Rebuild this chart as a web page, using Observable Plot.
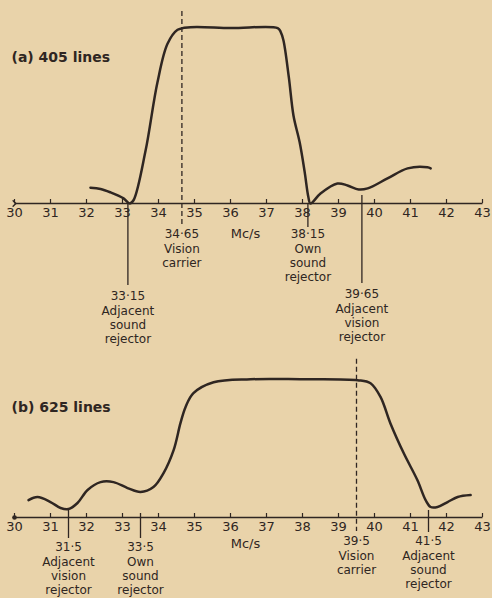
<!DOCTYPE html>
<html>
<head>
<meta charset="utf-8">
<script src="https://cdn.jsdelivr.net/npm/d3@7"></script>
<script src="https://cdn.jsdelivr.net/npm/@observablehq/plot@0.6"></script>
<style>
  html, body { margin: 0; padding: 0; background: #e9d3aa; }
  #chart { width: 492px; height: 598px; overflow: hidden; }
  #chart svg { display: block; }
</style>
</head>
<body>
<div id="chart"></div>
<script>
// ---------- DATA ----------
const tickValues = [30, 31, 32, 33, 34, 35, 36, 37, 38, 39, 40, 41, 42, 43];
const axisUnit = "Mc/s";

// (a) 405 lines – relative response vs frequency (Mc/s)
const titleA = "(a) 405 lines";
const freqA = [32.11, 32.39, 32.67, 33.03, 33.2, 33.31, 33.64, 33.97, 34.25, 34.53, 34.89, 36.0, 37.31, 37.39, 37.47, 37.62, 37.75, 37.92, 38.06, 38.16, 38.22, 38.5, 38.97, 39.25, 39.56, 39.81, 40.36, 40.92, 41.47, 41.56];
const respA = [0.09, 0.083, 0.063, 0.029, 0.0, 0.02, 0.30, 0.69, 0.91, 0.99, 1.005, 1.0, 1.0, 0.98, 0.93, 0.72, 0.50, 0.35, 0.18, 0.04, 0.0, 0.057, 0.114, 0.103, 0.08, 0.086, 0.143, 0.20, 0.206, 0.20];
const carrierA = 34.65;
const carrierLabelA = "34·65\nVision\ncarrier";
const rejectorsA = [33.15, 38.15, 39.65];
const rejectorLabelsA = ["33·15\nAdjacent\nsound\nrejector", "38·15\nOwn\nsound\nrejector", "39·65\nAdjacent\nvision\nrejector"];

// (b) 625 lines
const titleB = "(b) 625 lines";
const freqB = [30.39, 30.64, 31.0, 31.28, 31.5, 31.75, 32.03, 32.39, 32.75, 33.14, 33.5, 33.86, 34.14, 34.42, 34.61, 34.75, 34.97, 35.53, 36.56, 37.94, 39.53, 39.89, 40.17, 40.44, 40.81, 41.19, 41.42, 41.56, 41.75, 42.03, 42.31, 42.67];
const respB = [0.126, 0.148, 0.112, 0.069, 0.061, 0.105, 0.199, 0.256, 0.256, 0.213, 0.184, 0.22, 0.321, 0.487, 0.682, 0.798, 0.899, 0.978, 1.0, 1.0, 0.993, 0.971, 0.87, 0.682, 0.466, 0.271, 0.126, 0.076, 0.076, 0.112, 0.148, 0.162];
const carrierB = 39.5;
const carrierLabelB = "39·5\nVision\ncarrier";
const rejectorsB = [31.5, 33.5, 41.5];
const rejectorLabelsB = ["31·5\nAdjacent\nvision\nrejector", "33·5\nOwn\nsound\nrejector", "41·5\nAdjacent\nsound\nrejector"];

// ---------- STYLE / LAYOUT ----------
const ink = "#2f2622";
const font = "DejaVu Sans";
const W = 492;

function panel(cfg) {
  const {height, marginTop, marginBottom, yMax, curveX, curveY, title, titleDy,
         carrier, carrierLabel, carrierBelow, carrierLabelOff,
         rejectors, rejectorLabels, rejExtents, rejLabelOffs, unitDy, startMarker} = cfg;
  const k = (height - marginTop - marginBottom) / yMax; // px per unit
  const px = v => -v / k; // px below axis -> data units
  const curve = curveX.map((x, i) => ({x, y: curveY[i]}));
  const textOpts = {fill: ink, fontSize: 12, lineHeight: 1.17, lineAnchor: "top", textAnchor: "middle",
                    style: "letter-spacing:1.3px"};
  return Plot.plot({
    width: W, height, marginLeft: 14, marginRight: 10, marginTop, marginBottom,
    style: {fontFamily: font, background: "transparent", color: ink, overflow: "visible"},
    x: {domain: [tickValues[0], tickValues[tickValues.length - 1]], axis: null},
    y: {domain: [0, yMax], axis: null},
    marks: [
      Plot.link([0], {x1: () => tickValues[0], x2: () => tickValues[tickValues.length - 1], y1: () => 0, y2: () => 0,
                      stroke: ink, strokeWidth: 1.4, markerStart: startMarker}),
      Plot.ruleX(tickValues, {x: d => d, y1: 0, y2: 4 / k, stroke: ink, strokeWidth: 1.2}),
      Plot.axisX({ticks: tickValues, tickSize: 0, tickPadding: 4, fontSize: 13, tickFormat: d => String(d),
                  label: null, fill: ink}),
      Plot.text([axisUnit], {frameAnchor: "bottom", dy: unitDy, dx: -3, lineAnchor: "middle", fill: ink,
                             fontSize: 13, style: "letter-spacing:1.1px"}),
      // carrier (dashed)
      Plot.ruleX([carrier], {x: d => d, y1: yMax * 0.995, y2: px(carrierBelow), stroke: ink,
                             strokeWidth: 1.3, strokeDasharray: "5,3"}),
      Plot.text([carrierLabel], {x: () => carrier, y: () => px(carrierLabelOff), text: d => d, ...textOpts}),
      // rejectors
      Plot.ruleX(rejectors, {x: d => d, y1: (d, i) => px(rejExtents[i][0]), y2: (d, i) => px(rejExtents[i][1]),
                             stroke: ink, strokeWidth: 1.3}),
      Plot.text(rejectors, {x: d => d, y: (d, i) => px(rejLabelOffs[i]), text: (d, i) => rejectorLabels[i], ...textOpts}),
      // response curve
      Plot.line(curve, {x: "x", y: "y", curve: "catmull-rom", stroke: ink, strokeWidth: 2.5,
                        strokeLinecap: "round", strokeLinejoin: "round"}),
      // title
      Plot.text([title], {frameAnchor: "top-left", dx: -3, dy: titleDy, lineAnchor: "middle", textAnchor: "start",
                          fill: ink, fontSize: 14, fontWeight: "bold", style: "letter-spacing:0.4px"})
    ]
  });
}

const chart = document.getElementById("chart");
chart.append(panel({
  height: 345, marginTop: 10, marginBottom: 142, yMax: 1.1,
  curveX: freqA, curveY: respA, title: titleA, titleDy: 47,
  carrier: carrierA, carrierLabel: carrierLabelA, carrierBelow: 23, carrierLabelOff: 25,
  rejectors: rejectorsA, rejectorLabels: rejectorLabelsA,
  rejExtents: [[0, 82], [0, 24], [-8, 80]], rejLabelOffs: [87, 25, 85],
  unitDy: 30, startMarker: "arrow"
}));
chart.append(panel({
  height: 253, marginTop: 13, marginBottom: 81, yMax: 1.15,
  curveX: freqB, curveY: respB, title: titleB, titleDy: 49,
  carrier: carrierB, carrierLabel: carrierLabelB, carrierBelow: 14, carrierLabelOff: 18,
  rejectors: rejectorsB, rejectorLabels: rejectorLabelsB,
  rejExtents: [[-8, 21], [-4, 21], [-7, 15]], rejLabelOffs: [24, 24, 18],
  unitDy: 26, startMarker: "dot"
}));
</script>
</body>
</html>
